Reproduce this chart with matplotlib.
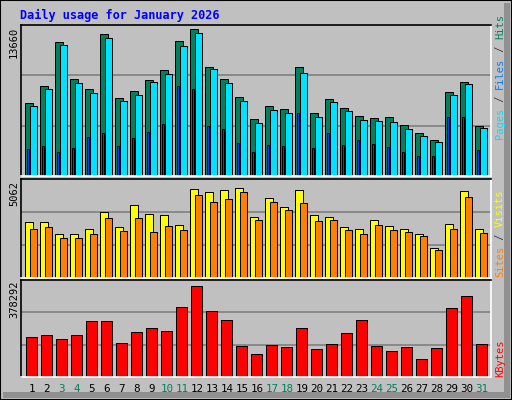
import numpy as np
import matplotlib.pyplot as plt
from matplotlib.patches import Rectangle

days = list(range(1, 32))
weekend = [3, 4, 10, 11, 17, 18, 24, 25, 31]

hits = [6650, 8200, 12200, 8840, 7920, 12930, 7100, 7740, 8740, 9650, 12290, 13390, 9930, 8840, 7190, 5190,
        6380, 6100, 9930, 5740, 7010, 6190, 5470, 5280, 5370, 4640, 3920, 3280, 7650, 8560, 4550]
files = [6380, 7920, 11930, 8470, 7560, 12570, 6830, 7380, 8560, 9290, 11840, 13020, 9740, 8470, 6830, 4830,
         6010, 5740, 9380, 5370, 6740, 5920, 5100, 5010, 4920, 4280, 3640, 3100, 7380, 8380, 4370]
pages = [2460, 2730, 2190, 2550, 3550, 3920, 2730, 3460, 4010, 4740, 8200, 7920, 4550, 4280, 3000, 2190,
         2820, 2730, 5740, 2550, 3920, 2820, 3280, 2910, 2640, 2190, 1820, 1820, 5370, 5370, 2370]
visits = [2931, 2931, 2318, 2318, 2573, 3442, 2675, 3800, 3340, 3289, 2778, 4669, 4464, 4567, 4720, 3187,
          4158, 3698, 4618, 3289, 3187, 2675, 2573, 3033, 2726, 2573, 2318, 1551, 2829, 4516, 2573]
sites = [2573, 2675, 2113, 2113, 2318, 3135, 2471, 3135, 2420, 2726, 2522, 4311, 3953, 4107, 4464, 3033,
         3953, 3544, 3902, 2982, 3033, 2522, 2318, 2778, 2522, 2420, 2215, 1448, 2573, 4209, 2369]
kbytes = [167, 175, 159, 175, 233, 233, 142, 188, 204, 192, 291, 378, 275, 237, 130, 97,
          134, 126, 204, 117, 138, 184, 237, 130, 109, 126, 76, 121, 287, 337, 138]
kbytes = [k * 1000 for k in kbytes]
max_hits, max_visits, max_kb = 13660, 5062, 378292

W, H = 512, 400
BG = '#c0c0c0'
fig = plt.figure(figsize=(W / 100, H / 100), dpi=100, facecolor=BG)
lw = 0.72
mono = 'DejaVu Sans Mono'

# borde y sombra
fig.patches.append(Rectangle((504 / W, 2 / H), 6 / W, 1 - 5 / H, transform=fig.transFigure, fc='#909090', ec='none'))
fig.patches.append(Rectangle((3 / W, 2 / H), 1 - 6 / W, 6 / H, transform=fig.transFigure, fc='#909090', ec='none'))
fig.patches.append(Rectangle((0, 0), 1, 1, transform=fig.transFigure, fill=False, ec='black', lw=1.5))


def panel(top, bottom):
    ax = fig.add_axes([21 / W, 1 - bottom / H, 470 / W, (bottom - top) / H])
    ax.set_facecolor(BG)
    for s in ['left', 'top']:
        ax.spines[s].set_color('black')
    for s in ['right', 'bottom']:
        ax.spines[s].set_color('white')
    for s in ax.spines.values():
        s.set_linewidth(1.2)
    ax.set_xlim(1 - 4 / 15, 1 - 4 / 15 + 470 / 15)
    ax.set_xticks([])
    ax.set_yticks([])
    return ax


d = np.array(days)

ax1 = panel(25, 176)
top1 = max_hits * 150 / 149
ax1.set_ylim(0, top1)
for f in (1 / 3, 2 / 3):
    ax1.axhline(top1 * f, color='#808080', lw=1.2, zorder=0)
ax1.bar(d, hits, width=0.53, align='edge', color='#00805c', ec='black', lw=lw)
ax1.bar(d + 0.3, files, width=0.5, align='edge', color='#00e0ff', ec='black', lw=lw)
ax1.bar(d + 0.12, pages, width=0.15, align='edge', color='#0040ff', ec='black', lw=lw)

ax2 = panel(179, 278)
top2 = max_visits * 99 / 97
ax2.set_ylim(0, top2)
for f in (1 / 3, 2 / 3):
    ax2.axhline(top2 * f, color='#808080', lw=1.2, zorder=0)
ax2.bar(d, visits, width=0.53, align='edge', color='#ffff00', ec='black', lw=lw)
ax2.bar(d + 0.3, sites, width=0.5, align='edge', color='#ff8000', ec='black', lw=lw)

ax3 = panel(280, 377)
top3 = max_kb * 97 / 91
ax3.set_ylim(0, top3)
for f in (1 / 3, 2 / 3):
    ax3.axhline(top3 * f, color='#808080', lw=1.2, zorder=0)
ax3.bar(d + 0.09, kbytes, width=0.69, align='edge', color='#ff0000', ec='black', lw=lw)

# etiquetas de dias
for day in days:
    x = ax3.transData.transform((day + 0.45, 0))[0] / W
    fig.text(x, 1 - 389 / H, str(day), ha='center', va='center', family=mono, fontsize=7.8,
             color='#00805c' if day in weekend else 'black')

fig.text(20 / W, 1 - 15 / H, 'Daily usage for January 2026', family=mono, fontweight='bold',
         fontsize=8.6, color='#0000ff', va='center')

for yt, v in [(27, max_hits), (181, max_visits), (281, max_kb)]:
    fig.text(14 / W, 1 - yt / H, str(v), rotation=90, ha='center', va='top', family=mono, fontsize=7.5)


def side(parts, y_bottom):
    y = y_bottom
    for txt, col in parts:
        fig.text(500 / W, 1 - y / H, txt, rotation=90, ha='center', va='bottom', family=mono,
                 fontsize=7.5, color=col)
        y -= len(txt) * 6.25


side([('Pages', '#00e0ff'), (' / ', '#404040'), ('Files', '#0080ff'), (' / ', '#404040'),
      ('Hits', '#00805c')], 139)
side([('Sites', '#ff8000'), (' / ', '#404040'), ('Visits', '#ffff00')], 277)
side([('KBytes', '#ff0000')], 377)

fig.savefig('out.png', dpi=100, facecolor=BG)
